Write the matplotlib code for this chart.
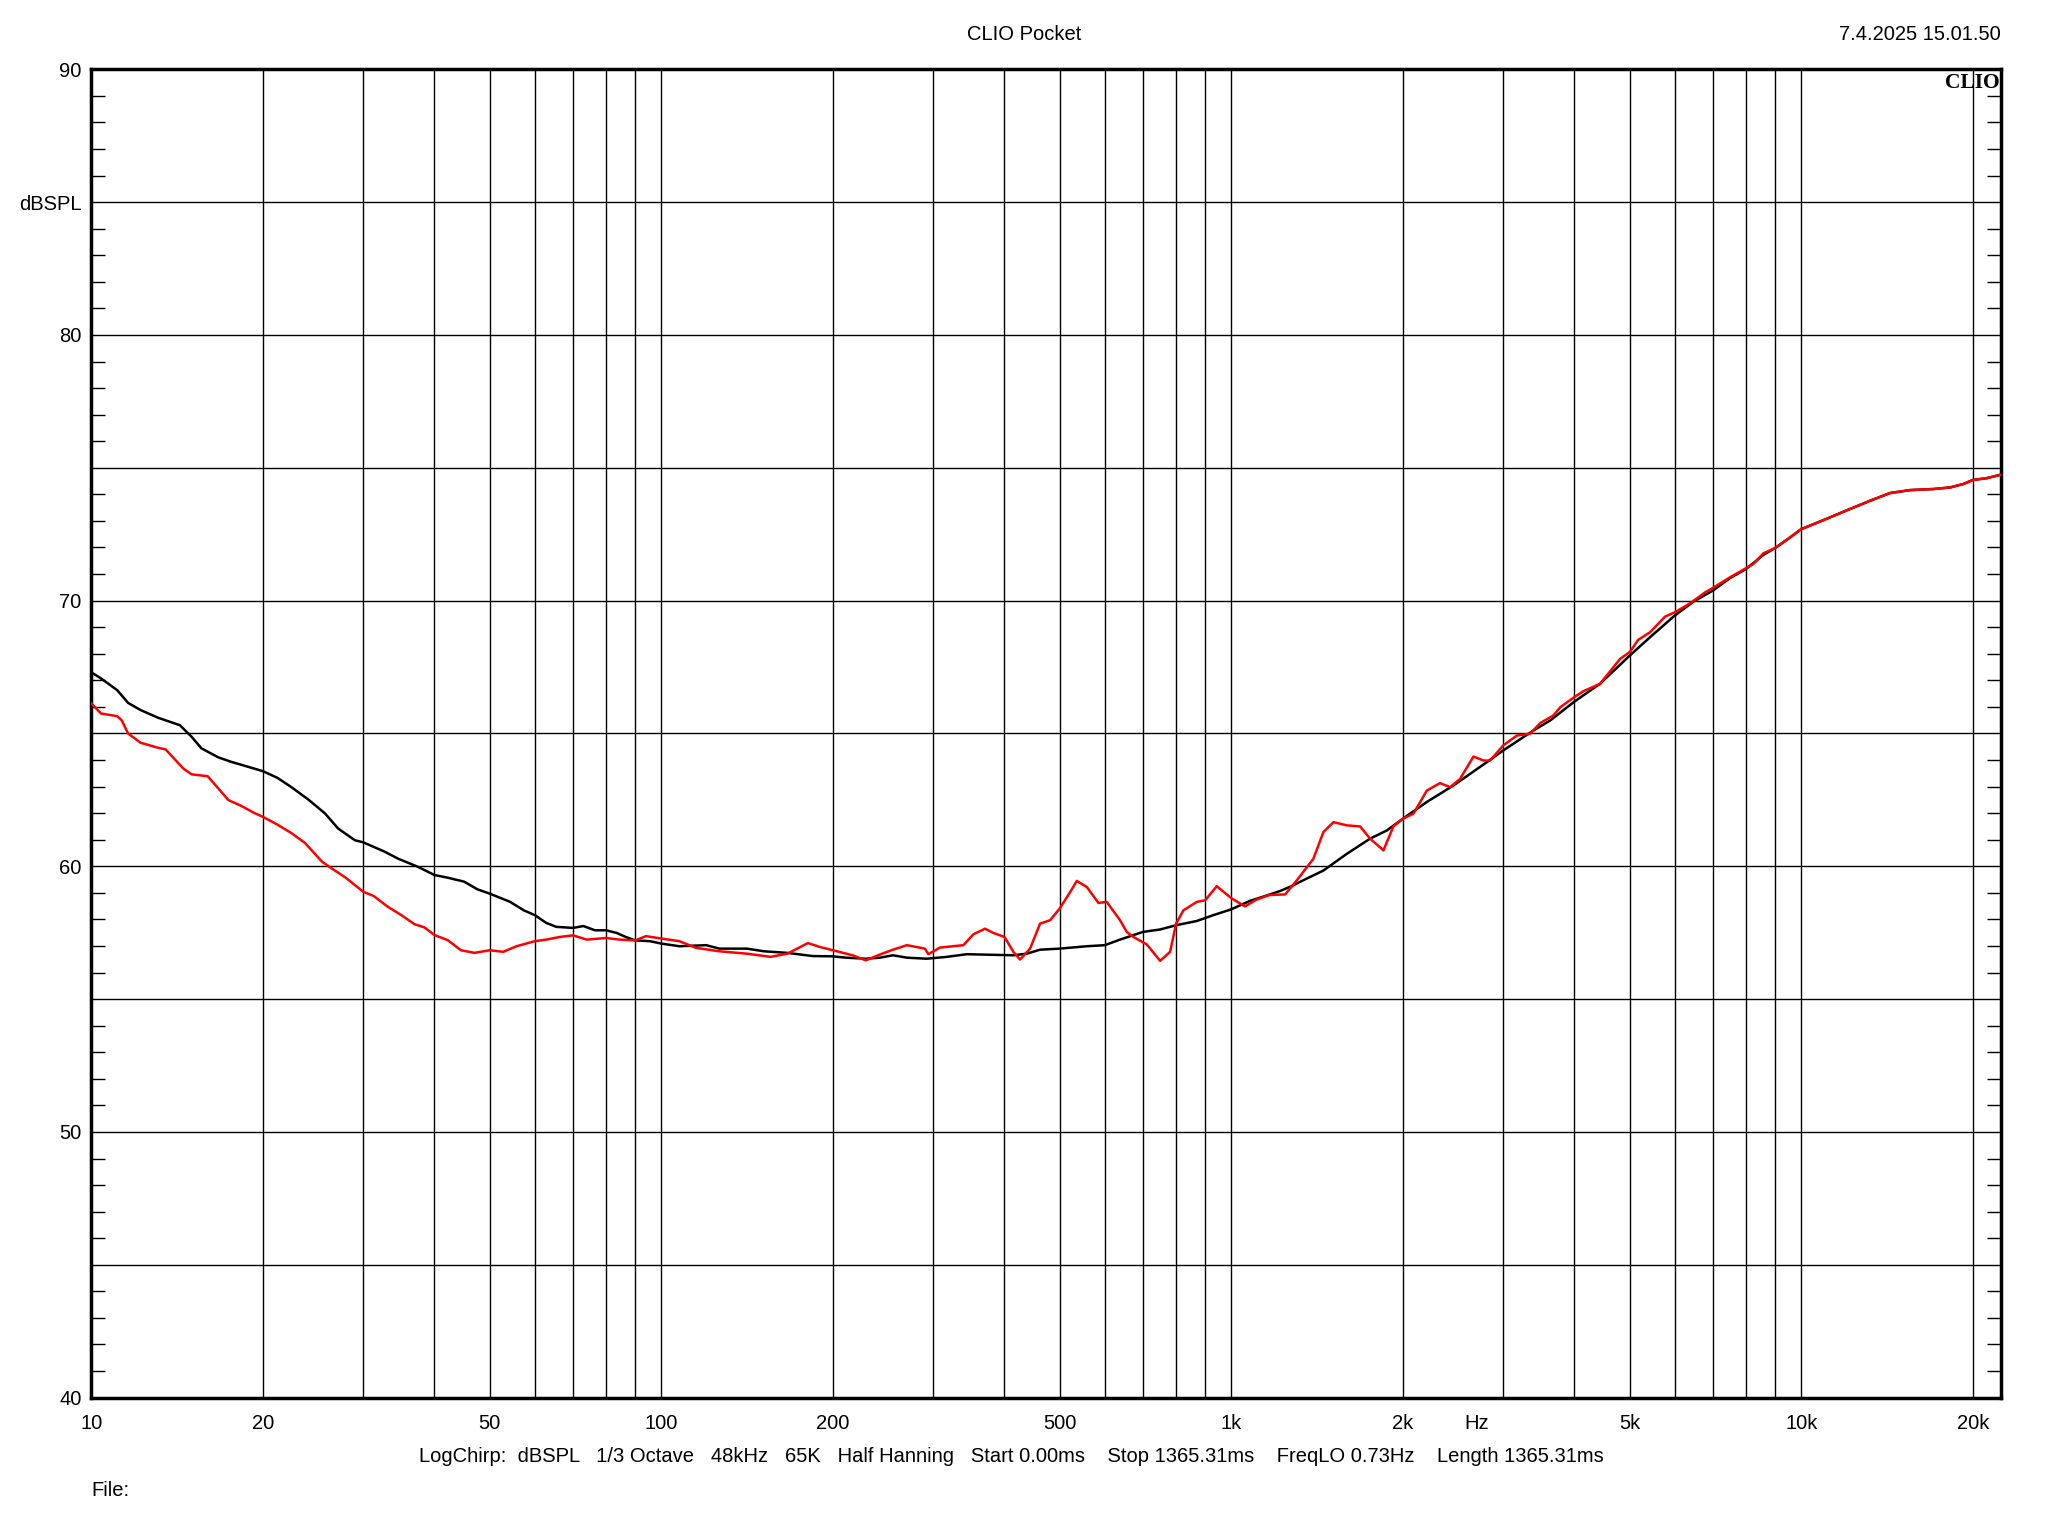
import matplotlib
matplotlib.use("Agg")
import matplotlib.pyplot as plt
from matplotlib.ticker import FixedLocator, NullFormatter
import matplotlib.transforms as mtransforms

# ---------------- data ----------------
black_freq = [10, 10.4, 11.1, 11.6, 12.2, 13.1, 14.3, 15.0, 15.6, 16.7, 17.6, 18.8, 20, 21.2, 22.4,
              24.0, 25.7, 27.1, 29.0, 30, 32.7, 34.5, 37.4, 40, 42.2, 45.1, 47.6, 50, 54.3, 57.4,
              60, 62.8, 65.4, 70, 73.0, 76.5, 80, 83.5, 86.6, 90, 95.5, 100, 107.6, 119.9, 126.4,
              141.3, 151.4, 166.4, 184.4, 200, 210.9, 228.5, 242, 255, 269.6, 292.2, 316.8, 343.5,
              377.4, 414.6, 437.7, 461.8, 500, 557.9, 600, 638.0, 700, 750.1, 800, 869.8, 930.1,
              1000, 1079, 1154, 1218, 1285, 1310, 1451, 1595, 1752, 1875, 2000, 2203, 2453, 2808,
              3000, 3389, 3627, 4000, 4436, 5000, 5428, 6000, 6469, 7000, 7504, 8000, 8582, 9000,
              9561, 10000, 10940, 12180, 13210, 14320, 15530, 17060, 18250, 19260, 20000, 21170, 22400]
black_db = [67.3, 67.07, 66.63, 66.15, 65.88, 65.59, 65.31, 64.87, 64.44, 64.10, 63.93, 63.75, 63.58,
            63.33, 62.99, 62.52, 61.99, 61.42, 60.98, 60.90, 60.55, 60.29, 59.98, 59.67, 59.57, 59.42,
            59.13, 58.97, 58.66, 58.34, 58.16, 57.87, 57.72, 57.68, 57.75, 57.59, 57.59, 57.49, 57.34,
            57.21, 57.18, 57.09, 56.99, 57.03, 56.90, 56.90, 56.80, 56.74, 56.62, 56.61, 56.56, 56.52,
            56.56, 56.65, 56.56, 56.52, 56.59, 56.69, 56.67, 56.65, 56.71, 56.86, 56.90, 56.99, 57.03,
            57.24, 57.53, 57.62, 57.78, 57.94, 58.16, 58.38, 58.70, 58.90, 59.07, 59.28, 59.38, 59.84,
            60.47, 61.04, 61.35, 61.79, 62.42, 63.04, 63.92, 64.36, 65.11, 65.49, 66.20, 66.87, 67.93,
            68.62, 69.44, 69.96, 70.38, 70.85, 71.19, 71.72, 71.98, 72.38, 72.69, 73.03, 73.45, 73.76,
            74.05, 74.16, 74.20, 74.26, 74.39, 74.54, 74.61, 74.74]

red_freq = [10, 10.4, 11.1, 11.3, 11.6, 12.2, 13.1, 13.5, 14.5, 15.0, 16.0, 16.5, 17.4, 18.3, 19.3, 20,
            21.2, 22.4, 23.7, 25.4, 26.4, 27.9, 30, 31.3, 33.1, 35.0, 36.9, 38.4, 40, 42.2, 44.5, 47.0,
            50, 52.8, 55.7, 60, 62.8, 66.4, 70, 74.0, 80, 84.5, 90, 94.0, 100, 107.6, 115.0, 126.4,
            141.3, 155.5, 166.4, 180.8, 189.9, 200, 216.5, 228.5, 242, 255, 269.6, 290.1, 294.1, 308.3,
            325.4, 338.8, 352.8, 369.8, 382.5, 400, 414.6, 426.0, 443.6, 461.8, 481.0, 500, 521.5,
            535.8, 557.9, 584.6, 604.6, 638.0, 655.5, 673.3, 710.7, 750.1, 781.0, 800, 824.1, 869.8,
            900, 943, 1000, 1057, 1108, 1169, 1243, 1303, 1393, 1451, 1511, 1595, 1683, 1752, 1849,
            1925, 2000, 2087, 2203, 2324, 2421, 2520, 2660, 2770, 2845, 3000, 3169, 3344, 3483, 3675,
            3779, 4000, 4148, 4436, 4811, 5000, 5173, 5428, 5771, 6000, 6383, 6781, 7000, 7504, 8243,
            8582, 9000, 9561, 10000, 10940, 12180, 13210, 14320, 15530, 17060, 18250, 19260, 20000,
            21170, 22400]
red_db = [66.13, 65.75, 65.65, 65.5, 65.0, 64.65, 64.46, 64.40, 63.68, 63.46, 63.39, 63.06, 62.49, 62.28,
          62.01, 61.86, 61.57, 61.26, 60.88, 60.17, 59.92, 59.58, 59.04, 58.88, 58.48, 58.16, 57.82,
          57.70, 57.41, 57.22, 56.84, 56.74, 56.84, 56.78, 56.99, 57.18, 57.24, 57.34, 57.40, 57.24,
          57.30, 57.24, 57.21, 57.37, 57.28, 57.18, 56.93, 56.80, 56.71, 56.59, 56.71, 57.11, 56.96,
          56.84, 56.65, 56.46, 56.68, 56.86, 57.03, 56.90, 56.69, 56.94, 56.99, 57.03, 57.44, 57.65,
          57.49, 57.34, 56.78, 56.49, 56.90, 57.84, 57.97, 58.41, 59.03, 59.45, 59.22, 58.62, 58.66,
          57.97, 57.53, 57.34, 57.06, 56.44, 56.78, 57.84, 58.34, 58.66, 58.72, 59.25, 58.80, 58.49,
          58.75, 58.92, 58.94, 59.47, 60.28, 61.29, 61.66, 61.54, 61.50, 61.04, 60.60, 61.50, 61.79,
          61.98, 62.85, 63.13, 62.98, 63.29, 64.13, 63.98, 63.98, 64.55, 64.92, 64.99, 65.39, 65.68,
          65.99, 66.37, 66.59, 66.87, 67.81, 68.06, 68.52, 68.81, 69.40, 69.56, 69.90, 70.31, 70.48,
          70.88, 71.38, 71.78, 71.98, 72.38, 72.69, 73.03, 73.45, 73.76, 74.05, 74.16, 74.20, 74.26,
          74.39, 74.54, 74.61, 74.74]

x_grid = [20, 30, 40, 50, 60, 70, 80, 90, 100, 200, 300, 400, 500, 600, 700, 800, 900, 1000,
          2000, 3000, 4000, 5000, 6000, 7000, 8000, 9000, 10000, 20000]
x_label_pos = [10, 20, 50, 100, 200, 500, 1000, 2000, 5000, 10000, 20000]
x_labels = ["10", "20", "50", "100", "200", "500", "1k", "2k", "5k", "10k", "20k"]
y_grid = [40, 45, 50, 55, 60, 65, 70, 75, 80, 85, 90]
y_labels = ["40", "", "50", "", "60", "", "70", "", "80", "dBSPL", "90"]
x_range = (10, 22400)
y_range = (40, 90)

title = "CLIO Pocket"
timestamp = "7.4.2025 15.01.50"
info = ("LogChirp:  dBSPL   1/3 Octave   48kHz   65K   Half Hanning   Start 0.00ms    "
        "Stop 1365.31ms    FreqLO 0.73Hz    Length 1365.31ms")

# ---------------- plot ----------------
plt.rcParams['font.family'] = ['Liberation Sans', 'DejaVu Sans']
FS = 14.5

fig = plt.figure(figsize=(20.48, 15.36), dpi=100)
ax = fig.add_axes([0.0446, 0.0901, 0.9324, 0.8648])

ax.set_xscale('log')
ax.set_xlim(*x_range)
ax.set_ylim(*y_range)

# grid
for g in x_grid:
    ax.axvline(g, color='black', lw=1.0, zorder=1)
for g in y_grid[1:-1]:
    ax.axhline(g, color='black', lw=1.0, zorder=1)

ax.plot(black_freq, black_db, color='black', lw=1.8, zorder=3)
ax.plot(red_freq, red_db, color='#ff0000', lw=1.8, zorder=4)

# x ticks
ax.xaxis.set_major_locator(FixedLocator(x_label_pos))
ax.set_xticklabels(x_labels)
ax.xaxis.set_minor_locator(FixedLocator([]))
ax.xaxis.set_minor_formatter(NullFormatter())
ax.tick_params(axis='x', which='major', length=0, pad=12, labelsize=FS)

# y ticks
ax.set_yticks(y_grid)
ax.set_yticklabels(y_labels)
ax.set_yticks(list(range(41, 90)), minor=True)
ax.tick_params(axis='y', which='major', length=0, pad=7, labelsize=FS)
ax.tick_params(axis='y', which='minor', direction='in', length=10, width=1.0,
               left=True, right=True)

for s in ax.spines.values():
    s.set_linewidth(2.5)

trans = mtransforms.blended_transform_factory(ax.transData, ax.transAxes)
ax.text(2700, -0.0197, "Hz", transform=trans, ha='center', va='center', fontsize=FS)

ax.text(0.9995, 0.997, "CLIO", transform=ax.transAxes, ha='right', va='top',
        fontsize=15.5, fontweight='bold', family=['Liberation Serif', 'DejaVu Serif'])

fig.text(0.5, 1 - 34 / 1536, title, ha='center', va='center', fontsize=FS)
fig.text(2001 / 2048, 1 - 34 / 1536, timestamp, ha='right', va='center', fontsize=FS)
fig.text(1011 / 2048, 1 - 1456 / 1536, info, ha='center', va='center', fontsize=FS)
fig.text(91 / 2048, 1 - 1490 / 1536, "File:", ha='left', va='center', fontsize=FS)

fig.savefig("out.png", dpi=100, facecolor='white')
